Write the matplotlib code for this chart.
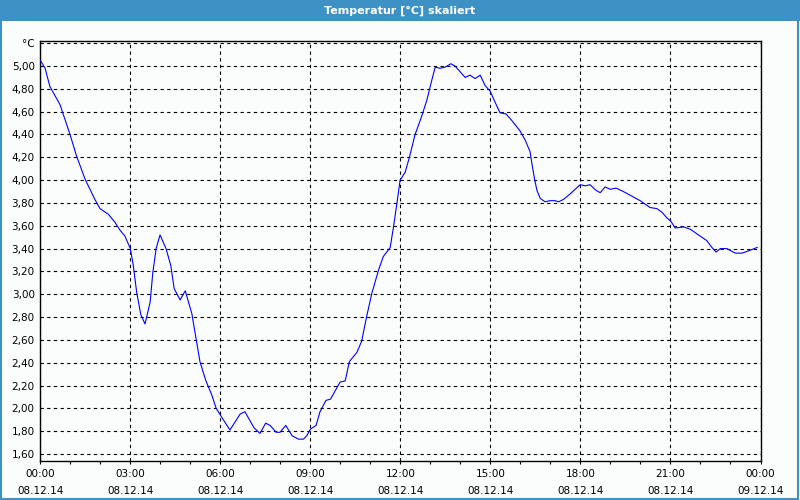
import matplotlib
matplotlib.use('Agg')
import matplotlib.pyplot as plt
from matplotlib.patches import Rectangle
from matplotlib.ticker import MultipleLocator

# Measured temperature, 08.12.14 (hours since midnight, °C)
hours = [0.00, 0.16, 0.32, 0.66, 0.99, 1.21, 1.49, 1.82, 1.99, 2.27,
         2.49, 2.66, 2.82, 3.00, 3.10, 3.21, 3.35, 3.49, 3.66, 3.75,
         3.86, 3.99, 4.19, 4.35, 4.46, 4.66, 4.83, 5.05, 5.19, 5.32,
         5.52, 5.71, 5.86, 6.05, 6.32, 6.66, 6.82, 7.12, 7.32, 7.51,
         7.66, 7.86, 7.99, 8.18, 8.39, 8.60, 8.77, 8.88, 9.01, 9.19,
         9.32, 9.52, 9.67, 9.82, 9.99, 10.16, 10.30, 10.55, 10.71, 10.88,
         11.05, 11.27, 11.43, 11.66, 11.77, 11.88, 11.99, 12.16, 12.30, 12.49,
         12.71, 12.88, 13.05, 13.16, 13.32, 13.49, 13.68, 13.82, 13.99, 14.16,
         14.32, 14.49, 14.66, 14.82, 14.99, 15.16, 15.32, 15.52, 15.72, 15.99,
         16.16, 16.32, 16.38, 16.47, 16.55, 16.66, 16.82, 16.99, 17.16, 17.27,
         17.43, 17.66, 17.99, 18.16, 18.32, 18.52, 18.66, 18.82, 18.99, 19.19,
         19.43, 19.71, 19.99, 20.32, 20.55, 20.71, 20.88, 21.01, 21.16, 21.43,
         21.66, 21.93, 22.21, 22.38, 22.52, 22.66, 22.88, 23.16, 23.38, 23.60,
         23.89]
temps = [5.05, 4.98, 4.82, 4.66, 4.40, 4.21, 4.01, 3.83, 3.75, 3.70,
         3.63, 3.56, 3.51, 3.40, 3.25, 3.02, 2.82, 2.74, 2.93, 3.19,
         3.40, 3.52, 3.40, 3.25, 3.05, 2.95, 3.03, 2.83, 2.61, 2.41,
         2.24, 2.12, 2.00, 1.92, 1.81, 1.95, 1.97, 1.83, 1.78, 1.87,
         1.85, 1.79, 1.79, 1.85, 1.76, 1.73, 1.73, 1.76, 1.82, 1.85,
         1.97, 2.07, 2.08, 2.15, 2.23, 2.24, 2.41, 2.49, 2.59, 2.81,
         3.01, 3.21, 3.33, 3.41, 3.59, 3.79, 4.00, 4.07, 4.20, 4.40,
         4.56, 4.70, 4.88, 4.99, 4.98, 4.99, 5.02, 5.00, 4.95, 4.90,
         4.92, 4.89, 4.92, 4.83, 4.78, 4.68, 4.59, 4.58, 4.52, 4.43,
         4.35, 4.25, 4.15, 4.01, 3.91, 3.84, 3.81, 3.82, 3.82, 3.81,
         3.83, 3.88, 3.96, 3.95, 3.96, 3.91, 3.89, 3.94, 3.92, 3.93,
         3.90, 3.86, 3.82, 3.76, 3.75, 3.72, 3.67, 3.64, 3.58, 3.59,
         3.57, 3.52, 3.47, 3.41, 3.37, 3.40, 3.40, 3.36, 3.36, 3.38,
         3.41]

x_ticks = [0, 3, 6, 9, 12, 15, 18, 21, 24]
x_labels = ['00:00\n08.12.14', '03:00\n08.12.14', '06:00\n08.12.14',
            '09:00\n08.12.14', '12:00\n08.12.14', '15:00\n08.12.14',
            '18:00\n08.12.14', '21:00\n08.12.14', '00:00\n09.12.14']
y_ticks = [1.6, 1.8, 2.0, 2.2, 2.4, 2.6, 2.8, 3.0, 3.2, 3.4,
           3.6, 3.8, 4.0, 4.2, 4.4, 4.6, 4.8, 5.0, 5.2]
y_labels = ['1,60', '1,80', '2,00', '2,20', '2,40', '2,60', '2,80', '3,00',
            '3,20', '3,40', '3,60', '3,80', '4,00', '4,20', '4,40', '4,60',
            '4,80', '5,00', '°C']

title = 'Temperatur [°C] skaliert'
bar_blue = '#3D91C5'
bg = '#FBFDFC'

plt.rcParams['font.family'] = ['DejaVu Sans']
plt.rcParams['font.size'] = 7.5

fig = plt.figure(figsize=(8, 5), dpi=100, facecolor=bg)

# title bar and window border
fig.patches.append(Rectangle((0, 1 - 21 / 500), 1, 21 / 500, transform=fig.transFigure,
                             facecolor=bar_blue, edgecolor='none', zorder=0))
fig.patches.append(Rectangle((0.001, 0.002), 0.997, 0.996, transform=fig.transFigure,
                             facecolor='none', edgecolor=bar_blue, linewidth=1.5, zorder=1))
fig.text(0.5, 1 - 10.5 / 500, title, color='white', fontweight='bold',
         fontsize=8, ha='center', va='center')

ax = fig.add_axes([40.3 / 800, 1 - 460.7 / 500, 720.2 / 800, 420 / 500])
ax.set_facecolor(bg)
ax.plot(hours, temps, color='#0000FF', linewidth=0.8, zorder=3)

ax.set_xlim(0, 24)
ax.set_ylim(1.541, 5.222)

ax.set_xticks(x_ticks)
ax.set_xticklabels(x_labels, linespacing=1.85)
ax.xaxis.set_minor_locator(MultipleLocator(1))
ax.set_yticks(y_ticks)
ax.set_yticklabels(y_labels)

ax.tick_params(axis='x', which='major', length=2, width=0.8, pad=4, colors='black')
ax.tick_params(axis='x', which='minor', length=2, width=0.8)
ax.tick_params(axis='y', length=0, pad=4)

ax.grid(True, which='major', color='black', linestyle=(0, (3, 3)), linewidth=0.8)

for side in ax.spines.values():
    side.set_color('black')
    side.set_linewidth(1.0)

plt.savefig('out.png', dpi=100, facecolor=bg)
